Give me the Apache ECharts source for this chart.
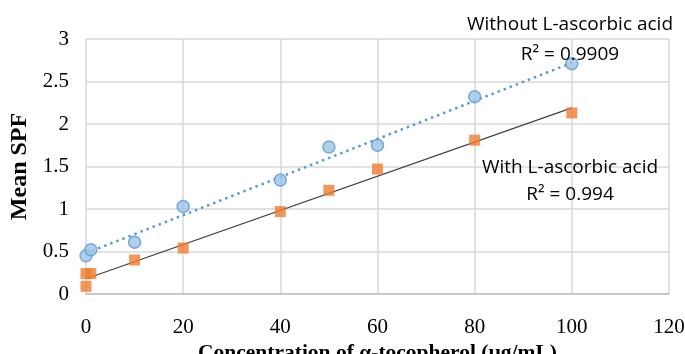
<!DOCTYPE html>
<html>
<head>
<meta charset="utf-8">
<script src="https://cdn.jsdelivr.net/npm/echarts@6/dist/echarts.min.js"></script>
<style>
  html, body { margin: 0; padding: 0; background: #fff; }
  #chart { width: 685px; height: 354px; }
</style>
</head>
<body>
<div id="chart"></div>
<script>
// values
const withoutAcid = [[0, 0.45], [1, 0.52], [10, 0.61], [20, 1.03], [40, 1.34], [50, 1.73], [60, 1.75], [80, 2.32], [100, 2.71]]
const withAcid = [[0, 0.09], [0, 0.24], [1, 0.24], [10, 0.40], [20, 0.54], [40, 0.97], [50, 1.22], [60, 1.47], [80, 1.81], [100, 2.13]]
// linear trend lines (end points)
const withoutTrend = [[0, 0.48], [100, 2.72]]
const withTrend = [[0, 0.18], [100, 2.19]]
const labels = {
  without: 'Without L-ascorbic acid',
  withoutR2: 'R² = 0.9909',
  with: 'With L-ascorbic acid',
  withR2: 'R² = 0.994'
}

const serif = '"Liberation Serif", "Times New Roman", serif'
const sans = '"Open Sans", "Liberation Sans", sans-serif'

let myChart = echarts.init(document.getElementById('chart'))

const note = (text, y) => ({
    type: 'text', x: 570, y: y, z: 10,
    style: { text: text, fontFamily: sans, fontSize: 19, fill: '#000', align: 'center', verticalAlign: 'middle' }
})

myChart.setOption({
    animation: false,
    grid: { left: 86, right: 16, top: 39, bottom: 60, outerBoundsMode: 'none' },
    xAxis: {
        type: 'value', min: 0, max: 120, interval: 20,
        name: 'Concentration of α-tocopherol (µg/mL)',
        nameLocation: 'middle', nameGap: 40,
        nameTextStyle: { fontFamily: serif, fontWeight: 'bold', fontSize: 21.5, color: '#000' },
        axisLine: { show: true, lineStyle: { color: '#bfbfbf', width: 1.5 } },
        axisTick: { show: false },
        axisLabel: { fontFamily: serif, fontSize: 21, color: '#000', margin: 23 },
        splitLine: { show: true, lineStyle: { color: '#d9d9d9', width: 1.5 } }
    },
    yAxis: {
        type: 'value', min: 0, max: 3, interval: 0.5,
        name: 'Mean SPF',
        nameLocation: 'middle', nameGap: 49,
        nameTextStyle: { fontFamily: serif, fontWeight: 'bold', fontSize: 24, color: '#000' },
        axisLine: { show: false },
        axisTick: { show: false },
        axisLabel: { fontFamily: serif, fontSize: 21, color: '#000', margin: 17 },
        splitLine: { show: true, lineStyle: { color: '#d9d9d9', width: 1.5 } }
    },
    series: [
        {
            type: 'line', data: withoutTrend, symbol: 'none', z: 3,
            lineStyle: { color: '#5b9bd5', width: 2.5, type: [2.5, 4] }
        },
        {
            type: 'line', data: withTrend, symbol: 'none', z: 3,
            lineStyle: { color: '#404040', width: 1.2 }
        },
        {
            name: 'Without L-ascorbic acid', type: 'scatter', data: withoutAcid,
            symbol: 'circle', symbolSize: 12, z: 4,
            itemStyle: { color: '#9dc3e6', borderColor: '#5b9bd5', borderWidth: 1.5 }
        },
        {
            name: 'With L-ascorbic acid', type: 'scatter', data: withAcid,
            symbol: 'rect', symbolSize: 11, z: 4,
            itemStyle: { color: '#ed7d31' }
        }
    ],
    graphic: [
        note(labels.without, 25),
        note(labels.withoutR2, 55),
        note(labels.with, 168),
        note(labels.withR2, 195)
    ]
});
</script>
</body>
</html>
